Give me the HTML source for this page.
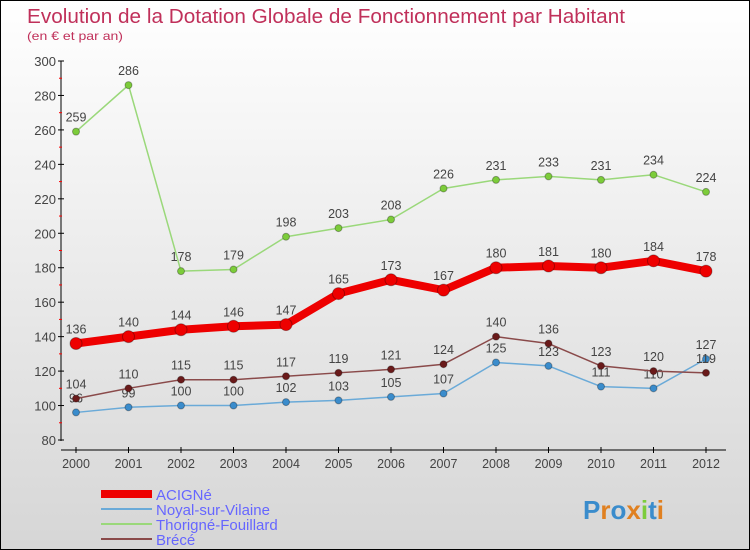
<!DOCTYPE html>
<html><head><meta charset="utf-8"><style>
body{margin:0;}
#c{width:748px;height:548px;border:1px solid #000;background:linear-gradient(#ffffff,#d6d6d6);position:relative;overflow:hidden;font-family:"Liberation Sans",sans-serif;}
</style></head><body>
<div id="c">
<svg id="s" width="748" height="548" xmlns="http://www.w3.org/2000/svg"></svg>
</div>
<script>
const years=[2000,2001,2002,2003,2004,2005,2006,2007,2008,2009,2010,2011,2012];
const acigne=[136,140,144,146,147,165,173,167,180,181,180,184,178];
const noyal=[96,99,100,100,102,103,105,107,125,123,111,110,127];
const thorigne=[259,286,178,179,198,203,208,226,231,233,231,234,224];
const brece=[104,110,115,115,117,119,121,124,140,136,123,120,119];
const yTicks=[80,100,120,140,160,180,200,220,240,260,280,300];
const NS="http://www.w3.org/2000/svg";
const s=document.getElementById('s');
const X=i=>75+i*52.5;
const Y=v=>439-(v-80)*(379/220);
function el(t,a,p){const e=document.createElementNS(NS,t);for(const k in a)e.setAttribute(k,a[k]);(p||s).appendChild(e);return e;}
function tx(x,y,str,a){const e=el('text',Object.assign({x:x,y:y},a));e.textContent=str;return e;}
let t=tx(26,22,'Evolution de la Dotation Globale de Fonctionnement par Habitant',{fill:'#c0305a','font-size':20,textLength:598,lengthAdjust:'spacingAndGlyphs'});

t=tx(26,39,'(en € et par an)',{fill:'#c0305a','font-size':12,textLength:96,lengthAdjust:'spacingAndGlyphs'});

let ax=el('line',{x1:60,y1:60,x2:60,y2:440,stroke:'#000'});

yTicks.forEach(v=>{el('line',{x1:57,x2:63,y1:Y(v),y2:Y(v),stroke:'#000'});
 if(v<300)el('line',{x1:58,x2:61,y1:Y(v+10),y2:Y(v+10),stroke:'#f00'});
 const l=tx(55,Y(v)+5,v,{fill:'#444','font-size':13,'text-anchor':'end'});
 });
ax=el('line',{x1:60,y1:449,x2:725,y2:449,stroke:'#000'});

years.forEach((y,i)=>{el('line',{x1:X(i),x2:X(i),y1:446,y2:452,stroke:'#000'});
 const l=tx(X(i),467,y,{fill:'#444','font-size':12.5,'text-anchor':'middle'});
 });
function series(d,col,dot,w,r,name){
 const g=el('g',{});
 el('polyline',{points:d.map((v,i)=>X(i)+','+Y(v)).join(' '),fill:'none',stroke:col,'stroke-width':w,'stroke-linejoin':'round'},g);
 d.forEach((v,i)=>{const c=el('circle',{cx:X(i),cy:Y(v),r:r,fill:dot,stroke:'rgba(0,0,0,0.3)'},g);
  
  tx(X(i),Y(v)-10,v,{fill:'#444','font-size':12.5,'text-anchor':'middle'},g);});
}
series(thorigne,'#9ad87a','#7ccc3a',1.5,3.5,'series-thorigne');
series(noyal,'#6aaad8','#3a8ccc',1.5,3.5,'series-noyal');
series(brece,'#8a4a4a','#6a1a1a',1.5,3.5,'series-brece');
series(acigne,'#ee0000','#ee0000',8,6,'series-acigne');
const leg=[['ACIGNé','#ee0000',8],['Noyal-sur-Vilaine','#6aaad8',2],['Thorigné-Fouillard','#9ad87a',2],['Brécé','#8a4a4a',2]];
leg.forEach((l,i)=>{const g=el('g',{});
 const y=493+i*15;el('line',{x1:100,x2:151,y1:y,y2:y,stroke:l[1],'stroke-width':l[2]},g);
 tx(155,y+6,l[0],{fill:'#6666ff','font-size':15},g);});
const p=tx(582,518,'',{'font-size':26,'font-weight':'bold'});

[['P','#3a8ccc'],['r','#e08020'],['o','#3a8ccc'],['x','#e08020'],['i','#7ccc3a'],['t','#3a8ccc'],['i','#e08020']].forEach(c=>{const ts=el('tspan',{fill:c[1]},p);ts.textContent=c[0];});
</script>
</body></html>
